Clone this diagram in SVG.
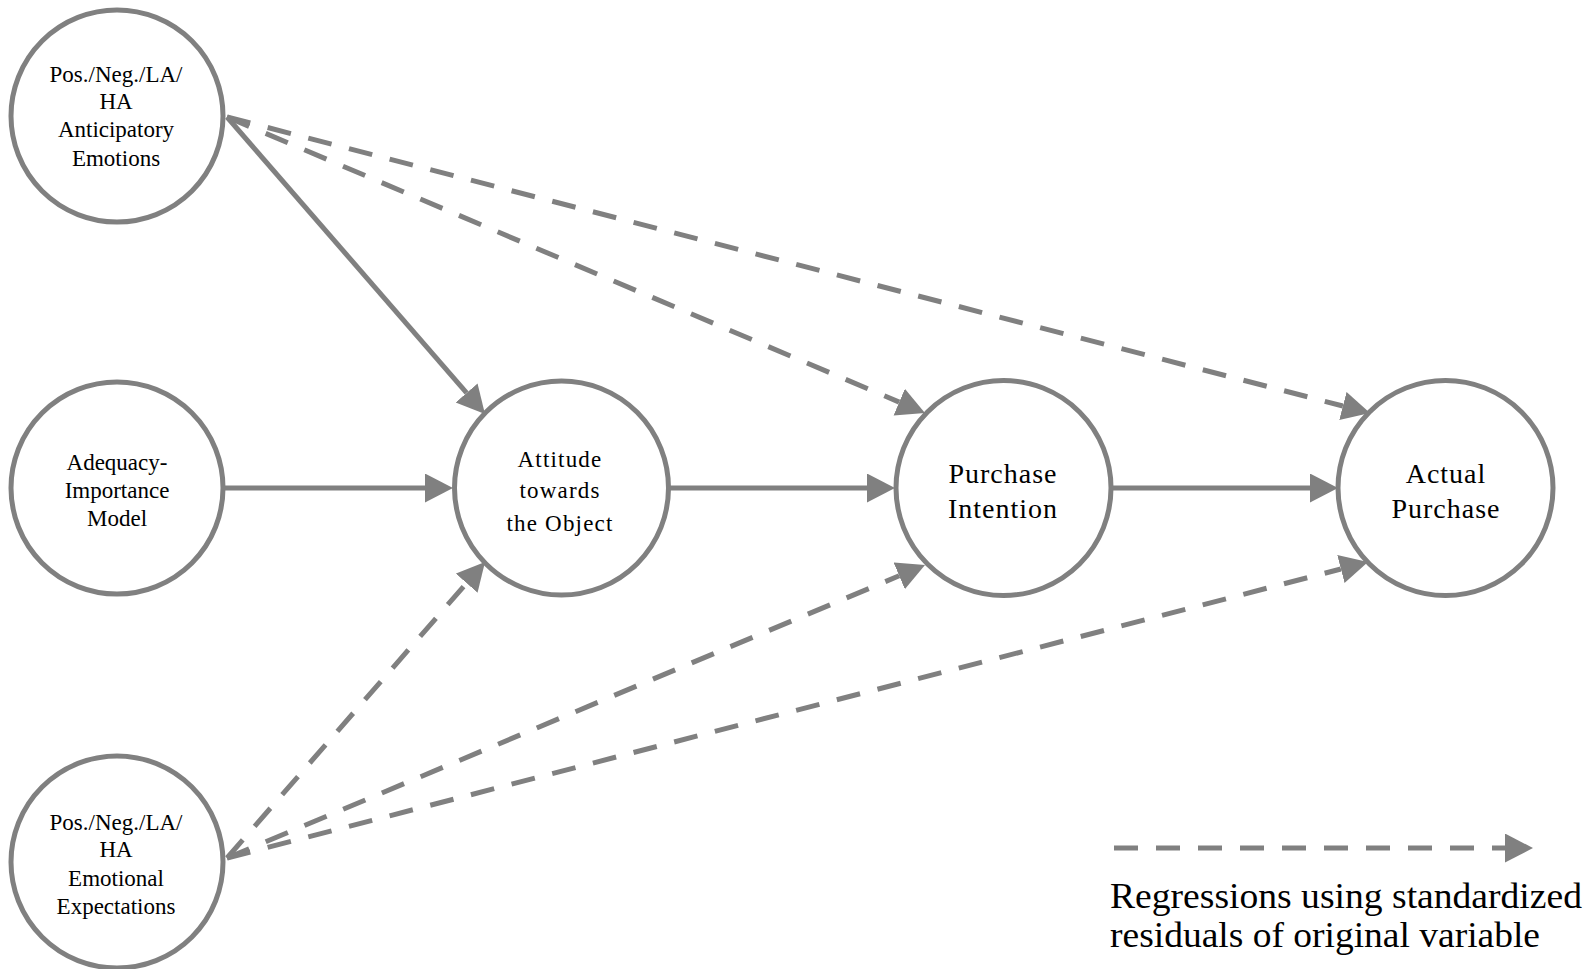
<svg xmlns="http://www.w3.org/2000/svg" width="1591" height="969" viewBox="0 0 1591 969">
<style>
.node{fill:#ffffff;stroke:#808080;stroke-width:5}
.t{font-family:"Liberation Serif","Times New Roman",serif;font-size:23px;fill:#000;text-anchor:middle}
.tc{letter-spacing:1.2px}
.tb{font-size:28px;letter-spacing:1px}
.c{stroke:#808080;stroke-width:5;fill:none}
.d{stroke-dasharray:24 18}
.lg{font-family:"Liberation Serif","Times New Roman",serif;font-size:36px;fill:#000}
</style>
<defs>
<marker id="ah" markerUnits="userSpaceOnUse" markerWidth="30" markerHeight="30" refX="0" refY="14.5" orient="auto">
<path d="M0,0 L28,14.5 L0,29 Z" fill="#808080"/>
</marker>
</defs>
<rect width="1591" height="969" fill="#ffffff"/>
<g id="connectors">
<line class="c" x1="227" y1="117" x2="466.6" y2="392.9" marker-end="url(#ah)"/>
<line class="c d" x1="227" y1="117" x2="899.2" y2="402.1" marker-end="url(#ah)"/>
<line class="c d" x1="227" y1="117" x2="1342.9" y2="406.0" marker-end="url(#ah)"/>
<line class="c" x1="224" y1="488" x2="425" y2="488" marker-end="url(#ah)"/>
<line class="c" x1="669" y1="488" x2="867" y2="488" marker-end="url(#ah)"/>
<line class="c" x1="1111" y1="488" x2="1310" y2="488" marker-end="url(#ah)"/>
<line class="c d" x1="227" y1="858" x2="466.6" y2="583.1" marker-end="url(#ah)"/>
<line class="c d" x1="227" y1="858" x2="899.2" y2="575.8" marker-end="url(#ah)"/>
<line class="c d" x1="227" y1="858" x2="1340.9" y2="569.0" marker-end="url(#ah)"/>
</g>
<g id="node-anticipatory">
<circle class="node" cx="117" cy="116" r="106"/>
<text class="t" x="116" y="82">Pos./Neg./LA/</text>
<text class="t" x="116" y="109">HA</text>
<text class="t" x="116" y="137">Anticipatory</text>
<text class="t" x="116" y="166">Emotions</text>
</g>
<g id="node-adequacy">
<circle class="node" cx="117" cy="488" r="106"/>
<text class="t" x="117" y="470">Adequacy-</text>
<text class="t" x="117" y="498">Importance</text>
<text class="t" x="117" y="526">Model</text>
</g>
<g id="node-attitude">
<circle class="node" cx="561.5" cy="488" r="107"/>
<text class="t tc" x="560" y="467">Attitude</text>
<text class="t tc" x="560" y="498">towards</text>
<text class="t tc" x="560" y="531">the Object</text>
</g>
<g id="node-intention">
<circle class="node" cx="1003.5" cy="488" r="107.5"/>
<text class="t tb" x="1003" y="483">Purchase</text>
<text class="t tb" x="1003" y="518">Intention</text>
</g>
<g id="node-actual">
<circle class="node" cx="1445.5" cy="488" r="107.5"/>
<text class="t tb" x="1446" y="483">Actual</text>
<text class="t tb" x="1446" y="518">Purchase</text>
</g>
<g id="node-expectations">
<circle class="node" cx="117" cy="862" r="106"/>
<text class="t" x="116" y="830">Pos./Neg./LA/</text>
<text class="t" x="116" y="857">HA</text>
<text class="t" x="116" y="886">Emotional</text>
<text class="t" x="116" y="914">Expectations</text>
</g>
<g id="legend">
<line class="c d" x1="1114" y1="848" x2="1505" y2="848" marker-end="url(#ah)"/>
<text class="lg" x="1110" y="908" textLength="472" lengthAdjust="spacingAndGlyphs">Regressions using standardized</text>
<text class="lg" x="1110" y="947" textLength="430" lengthAdjust="spacingAndGlyphs">residuals of original variable</text>
</g>
</svg>
